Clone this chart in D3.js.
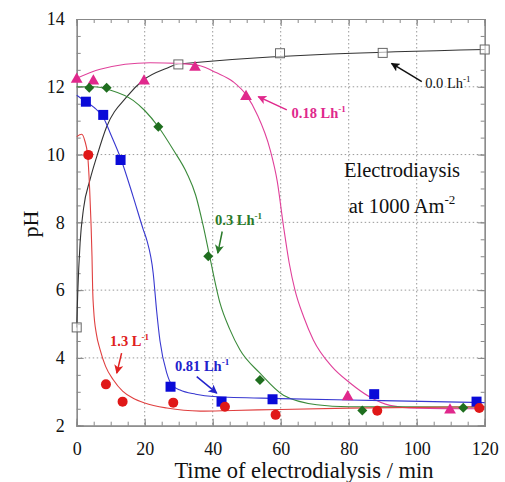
<!DOCTYPE html>
<html><head><meta charset="utf-8">
<script src="https://cdn.jsdelivr.net/npm/d3@7"></script>
<style>body{margin:0;background:#fff}svg{display:block}text{font-family:"Liberation Serif","Times New Roman",serif}</style>
</head><body><svg id="c" width="505" height="482"></svg>
<script>
// ---- data (time / min, pH) ----
const s00 = [[0,4.9],[29.9,12.66],[59.8,12.99],[90,13.0],[120,13.1]];
const s018 = [[0,12.25],[4.9,12.2],[19.8,12.2],[34.8,12.6],[49.8,11.74],[79.7,2.88],[109.8,2.49]];
const s03 = [[3.7,11.97],[8.8,11.97],[24,10.82],[38.7,7.0],[53.9,3.35],[84,2.45],[113.7,2.53]];
const s081 = [[2.7,11.56],[7.8,11.17],[12.9,9.84],[27.6,3.15],[42.6,2.71],[57.6,2.78],[87.5,2.93],[117.6,2.71]];
const s13 = [[3.4,9.99],[8.6,3.22],[13.5,2.71],[28.4,2.68],[43.6,2.56],[58.5,2.32],[88.4,2.44],[118.4,2.52]];
// fitted curves
const f00 = [[0,4.9],[0.3,5.9],[1,7.4],[2,8.4],[3.9,9.25],[5.9,9.94],[8.8,10.82],[14.7,11.7],[19.6,12.2],[26.5,12.55],[30,12.67],[120,13.1]];
const f018 = [[0,12.25],[6.9,12.52],[21.6,12.71],[30,12.69],[36.3,12.62],[41,12.42],[46,12.15],[50,11.74],[53,11.2],[56.9,10.14],[59,9.2],[60.8,7.9],[62.5,6.8],[64.2,6.0],[66.8,5.2],[69.6,4.53],[75,3.75],[80.4,3.26],[86,2.86],[92.1,2.6],[100,2.52],[120,2.5]];
const f03 = [[0,12.0],[5,12.0],[10,11.9],[16.6,11.6],[20,11.3],[24,10.82],[28.4,10.14],[32.4,9.45],[35,8.8],[37.2,7.9],[39.2,6.95],[42.2,5.6],[45,4.85],[48,4.24],[53.9,3.55],[60.8,2.9],[70.6,2.62],[80,2.56],[120,2.55]];
const f081 = [[0,11.75],[2.7,11.56],[5,11.4],[7.8,11.1],[10,10.6],[12.9,9.9],[16.6,8.76],[19.6,7.78],[20.6,7.48],[22.5,6.5],[23.5,5.4],[24.5,4.5],[26.5,3.55],[28,3.2],[30.4,3.05],[35,2.93],[40.2,2.86],[60,2.8],[90,2.74],[120,2.68]];
const f13 = [[0,10.53],[1.5,10.6],[2.4,10.4],[3.2,10.0],[3.8,9.0],[4.2,8.0],[4.5,7.0],[4.7,6.0],[5.0,5.4],[5.8,4.7],[6.9,4.24],[8.5,3.75],[10.8,3.35],[13.5,3.02],[16.6,2.81],[20,2.67],[26.5,2.52],[36.3,2.43],[46,2.45],[60,2.48],[80,2.52],[120,2.56]];
const xTicks = [0,20,40,60,80,100,120];
const yTicks = [2,4,6,8,10,12,14];
// annotations: label, sup, text pos, arrow from, arrow to
const notes = [
  {t:"0.0 Lh", sup:"-1", c:"#111", at:[102.5,11.96], from:[101.5,12.15], to:[92.6,12.69]},
  {t:"0.18 Lh", sup:"-1", c:"#e0288c", at:[63.2,11.08], from:[61.8,11.32], to:[53.4,11.71]},
  {t:"0.3 Lh", sup:"-1", c:"#2a7a2a", at:[40.7,7.92], from:[42.8,7.73], to:[41.5,7.09]},
  {t:"1.3 L", sup:"-1", c:"#e02020", at:[9.8,4.34], from:[13.2,4.14], to:[11.8,3.55]},
  {t:"0.81 Lh", sup:"-1", c:"#2222cc", at:[28.9,3.6], from:[35.3,3.45], to:[41.2,2.96]}
];

const svg = d3.select("#c");
const L=76.7, R=484.7, T=19, B=425.7;
const x = d3.scaleLinear().domain([0,120]).range([L,R]);
const y = d3.scaleLinear().domain([2,14]).range([B,T]);

// grid
const g = svg.append("g");
g.selectAll(".gx").data(xTicks.filter(d=>d>0&&d<120)).join("line")
  .attr("x1",d=>x(d)).attr("x2",d=>x(d)).attr("y1",T).attr("y2",B)
  .attr("stroke","#999").attr("stroke-width",1).attr("stroke-dasharray","1.5,2.5");
g.selectAll(".gy").data(yTicks.filter(d=>d>2&&d<14)).join("line")
  .attr("y1",d=>y(d)).attr("y2",d=>y(d)).attr("x1",L).attr("x2",R)
  .attr("stroke","#999").attr("stroke-width",1).attr("stroke-dasharray","1.5,2.5");

// axes with inward ticks on all sides
const minorX = d3.range(0,121,5), minorY = d3.range(2,14.01,0.5);
function ax(gen, tr){ return svg.append("g").attr("transform",tr).call(gen); }
ax(d3.axisBottom(x).tickValues(xTicks).tickSize(-7).tickPadding(17).tickFormat(d3.format("d")), `translate(0,${B})`);
ax(d3.axisLeft(y).tickValues(yTicks).tickSize(-7).tickPadding(12).tickFormat(d3.format("d")), `translate(${L},0)`);
ax(d3.axisTop(x).tickValues(xTicks).tickSize(-7).tickFormat(""), `translate(0,${T})`);
ax(d3.axisRight(y).tickValues(yTicks).tickSize(-7).tickFormat(""), `translate(${R},0)`);
ax(d3.axisBottom(x).tickValues(minorX).tickSize(-4).tickFormat(""), `translate(0,${B})`);
ax(d3.axisTop(x).tickValues(minorX).tickSize(-4).tickFormat(""), `translate(0,${T})`);
ax(d3.axisLeft(y).tickValues(minorY).tickSize(-4).tickFormat(""), `translate(${L},0)`);
ax(d3.axisRight(y).tickValues(minorY).tickSize(-4).tickFormat(""), `translate(${R},0)`);
svg.selectAll(".domain").attr("stroke","#888").attr("stroke-width",1.2);
svg.selectAll(".tick line").attr("stroke","#888");
svg.selectAll(".tick text").attr("font-size",18).attr("fill","#111").attr("font-family","Liberation Serif");

// axis titles
svg.append("text").attr("x",304).attr("y",478).attr("text-anchor","middle")
  .attr("font-size",22.5).attr("fill","#111").text("Time of electrodialysis / min");
svg.append("text").attr("transform","translate(38,224) rotate(-90)").attr("text-anchor","middle")
  .attr("font-size",22).attr("fill","#111").text("pH");

// curves
const line = d3.line().x(d=>x(d[0])).y(d=>y(d[1])).curve(d3.curveMonotoneX);
const curves = [[f00,"#333"],[f018,"#e0409a"],[f03,"#3a8a3a"],[f081,"#3838d0"],[f13,"#e04040"]];
svg.append("g").selectAll("path").data(curves).join("path")
  .attr("d",d=>line(d[0])).attr("fill","none").attr("stroke",d=>d[1]).attr("stroke-width",1.1);

// markers
const mk = svg.append("g");
mk.selectAll(".sq0").data(s00).join("rect")
  .attr("x",d=>x(d[0])-4.5).attr("y",d=>y(d[1])-4.5).attr("width",9).attr("height",9)
  .attr("fill","#fff").attr("fill-opacity",0.6).attr("stroke","#666").attr("stroke-width",1);
mk.selectAll(".tri").data(s018).join("path")
  .attr("d",d3.symbol(d3.symbolTriangle,60))
  .attr("transform",d=>`translate(${x(d[0])},${y(d[1])+1})`).attr("fill","#e0288c");
mk.selectAll(".dia").data(s03).join("path")
  .attr("d","M0,-5L5,0L0,5L-5,0Z")
  .attr("transform",d=>`translate(${x(d[0])},${y(d[1])})`).attr("fill","#1f6e1f");
mk.selectAll(".bsq").data(s081).join("rect")
  .attr("x",d=>x(d[0])-5).attr("y",d=>y(d[1])-5).attr("width",10).attr("height",10)
  .attr("fill","#0a0ad8");
mk.selectAll(".cir").data(s13).join("circle")
  .attr("cx",d=>x(d[0])).attr("cy",d=>y(d[1])).attr("r",5).attr("fill","#e01818");

// annotations
const defs = svg.append("defs");
notes.forEach((n,i)=>{
  defs.append("marker").attr("id","ah"+i).attr("viewBox","0 0 10 10").attr("refX",9).attr("refY",5)
    .attr("markerWidth",9).attr("markerHeight",9).attr("markerUnits","userSpaceOnUse").attr("orient","auto")
    .append("path").attr("d","M0,0L10,5L0,10L2.5,5Z").attr("fill",n.c);
  svg.append("line").attr("x1",x(n.from[0])).attr("y1",y(n.from[1])).attr("x2",x(n.to[0])).attr("y2",y(n.to[1]))
    .attr("stroke",n.c).attr("stroke-width",1.5).attr("marker-end",`url(#ah${i})`);
  const t = svg.append("text").attr("x",x(n.at[0])).attr("y",y(n.at[1])).attr("font-size",14.5)
    .attr("fill",n.c).attr("font-weight",n.c==="#111"?"normal":"bold");
  t.append("tspan").text(n.t);
  t.append("tspan").attr("dy",-6).attr("font-size",9).text(n.sup);
});

// condition text
const c1 = svg.append("text").attr("x",402).attr("y",177).attr("text-anchor","middle").attr("font-size",20.5).attr("fill","#111");
c1.text("Electrodiaysis");
const c2 = svg.append("text").attr("x",402).attr("y",213).attr("text-anchor","middle").attr("font-size",20.5).attr("fill","#111");
c2.append("tspan").text("at 1000 Am");
c2.append("tspan").attr("dy",-9).attr("font-size",13).text("-2");
</script></body></html>
